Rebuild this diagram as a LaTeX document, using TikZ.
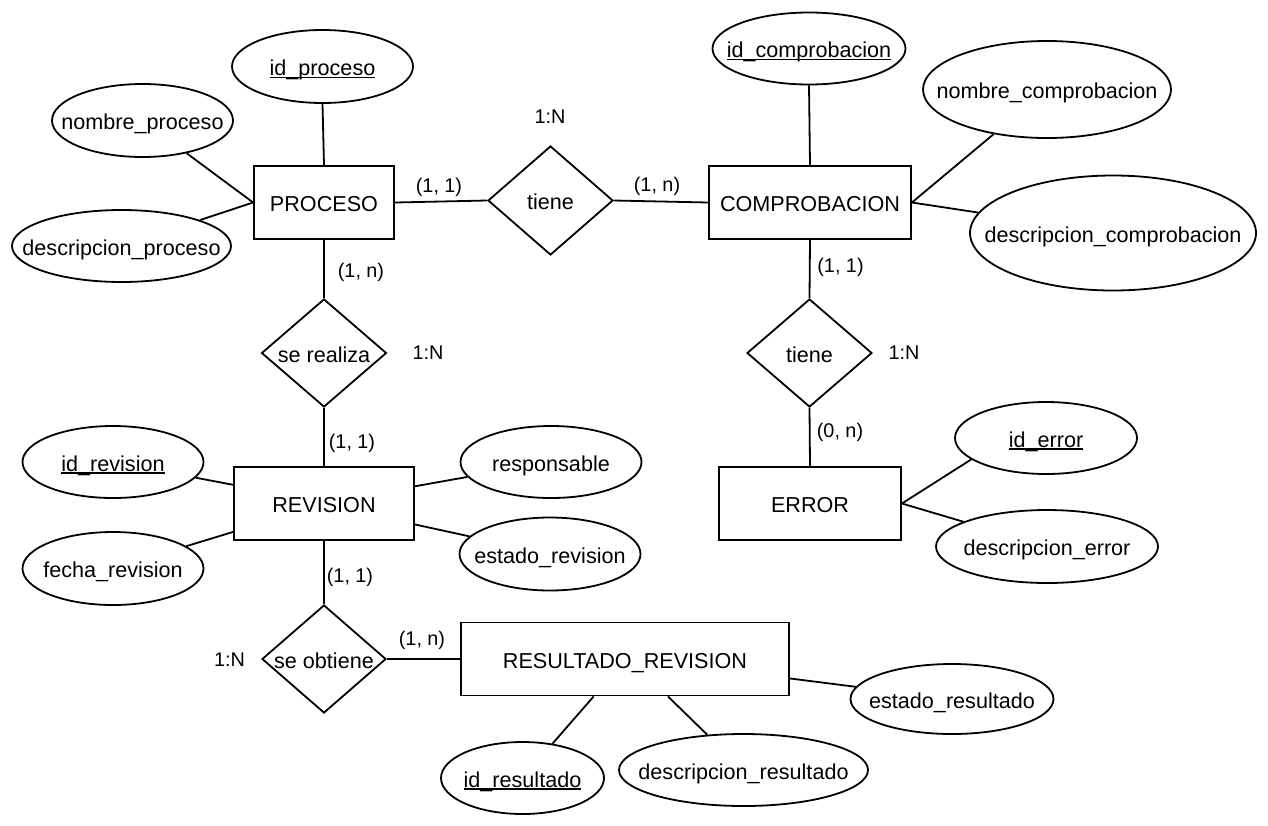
\documentclass[tikz,border=0pt]{standalone}
\usepackage{fontspec}
\setmainfont{Liberation Sans}
\usetikzlibrary{shapes.geometric,calc}
\newcommand\myul[1]{\setbox0\hbox{#1}\rlap{\rule[-2.6pt]{\wd0}{1.4pt}}\box0}
\newcommand\zb[1]{\makebox[0pt]{#1}}
\begin{document}
\begin{tikzpicture}[x=1pt,y=-1pt,
  every node/.style={font=\fontsize{21.6}{26}\selectfont, text=black},
  shp/.style={draw, line width=1.8pt, inner sep=0pt, fill=white, text height=18pt, text depth=0pt},
  ent/.style 2 args={shp, rectangle, minimum width=#1, minimum height=#2},
  attr/.style 2 args={shp, ellipse, minimum width=#1, minimum height=#2},
  rel/.style 2 args={shp, diamond, minimum width=#1, minimum height=#2},
  card/.style={font=\fontsize{19.8}{24}\selectfont, inner sep=0pt},
  conn/.style={line width=1.8pt}
]
\fill[white] (0,0) rectangle (1268,825);
\useasboundingbox (0,0) rectangle (1268,825);

% PROCESO
\node[ent={140pt}{73pt}] (proc) at (324,202.5) {PROCESO};
\node[attr={181pt}{73pt}] (ip) at (322.5,66.5) {\zb{\myul{id\_proceso}}};
\node[attr={181pt}{73pt}] (np) at (142.5,120.5) {\zb{nombre\_proceso}};
\node[attr={219pt}{72pt}] (dp) at (121.5,246) {\zb{descripcion\_proceso}};

% tiene (top)
\node[rel={125pt}{109pt}] (t1) at (550.5,200.5) {\zb{tiene}};

% COMPROBACION
\node[ent={202pt}{73pt}] (comp) at (810,202.5) {COMPROBACION};
\node[attr={193pt}{72pt}] (ic) at (809,48.5) {\zb{\myul{id\_comprobacion}}};
\node[attr={248pt}{97pt}] (nc) at (1047,89.5) {\zb{nombre\_comprobacion}};
\node[attr={286pt}{115pt}] (dc) at (1113,233) {\zb{descripcion\_comprobacion}};

% tiene (right)
\node[rel={125pt}{108pt}] (t2) at (809.5,353) {\zb{tiene}};

% ERROR
\node[ent={182pt}{73pt}] (err) at (810,503.5) {ERROR};
\node[attr={182pt}{72pt}] (ie) at (1046,438) {\zb{\myul{id\_error}}};
\node[attr={222pt}{73pt}] (de) at (1047,546.5) {\zb{descripcion\_error}};

% se realiza
\node[rel={125pt}{108pt}] (sr) at (324,353) {\zb{se realiza}};

% REVISION
\node[ent={180pt}{73pt}] (rev) at (324,503.5) {REVISION};
\node[attr={181pt}{72pt}] (ir) at (113,462) {\zb{\myul{id\_revision}}};
\node[attr={181pt}{73pt}] (fr) at (113,568.5) {\zb{fecha\_revision}};
\node[attr={181pt}{72pt}] (resp) at (551,462) {\zb{responsable}};
\node[attr={181pt}{73pt}] (er) at (550,554) {\zb{estado\_revision}};

% se obtiene
\node[rel={124pt}{108pt}] (so) at (324,659) {\zb{se obtiene}};

% RESULTADO_REVISION
\node[ent={328pt}{73pt}] (res) at (625,659) {RESULTADO\_REVISION};
\node[attr={203pt}{70pt}] (esr) at (952,699) {\zb{estado\_resultado}};
\node[attr={163pt}{72pt}] (irs) at (522.5,778) {\zb{\myul{id\_resultado}}};
\node[attr={249pt}{72pt}] (drs) at (743.5,770) {\zb{descripcion\_resultado}};

% cardinality labels
\node[card] (l1) at (550,117) {1:N};
\node[card] (l2) at (439,187) {(1, 1)};
\node[card] (l3) at (657,186) {(1, n)};
\node[card] (l4) at (361,272) {(1, n)};
\node[card] (l5) at (428,353) {1:N};
\node[card] (l6) at (352,443) {(1, 1)};
\node[card] (l7) at (350,577) {(1, 1)};
\node[card] (l8) at (229.5,660) {1:N};
\node[card] (l9) at (422,640) {(1, n)};
\node[card] (l10) at (840.5,267) {(1, 1)};
\node[card] (l11) at (904,353) {1:N};
\node[card] (l12) at (840,432) {(0, n)};

% connectors
\draw[conn] (ip.south) -- (proc.north);
\draw[conn] (np) -- (proc.west);
\draw[conn] (dp) -- (proc.west);
\draw[conn] (proc.east) -- (t1.west);
\draw[conn] (t1.east) -- (comp.west);
\draw[conn] (ic.south) -- (comp.north);
\draw[conn] (nc) -- (comp.east);
\draw[conn] (dc) -- (comp.east);
\draw[conn] (comp.south) -- (t2.north);
\draw[conn] (t2.south) -- (err.north);
\draw[conn] (err.east) -- (ie.196.7);
\draw[conn] (err.east) -- (de);
\draw[conn] (proc.south) -- (sr.north);
\draw[conn] (sr.south) -- (rev.north);
\draw[conn] (rev.south) -- (so.north);
\draw[conn] (so.east) -- (res.west);
\draw[conn] ($(rev.north west)!0.25!(rev.south west)$) -- (ir);
\draw[conn] ($(rev.north west)!0.88!(rev.south west)$) -- (fr);
\draw[conn] ($(rev.north east)!0.27!(rev.south east)$) -- (resp);
\draw[conn] ($(rev.north east)!0.78!(rev.south east)$) -- (er);
\draw[conn] ($(res.north east)!0.76!(res.south east)$) -- (esr);
\draw[conn] ($(res.south west)!0.405!(res.south east)$) -- (irs);
\draw[conn] ($(res.south west)!0.63!(res.south east)$) -- (drs);
\end{tikzpicture}
\end{document}
